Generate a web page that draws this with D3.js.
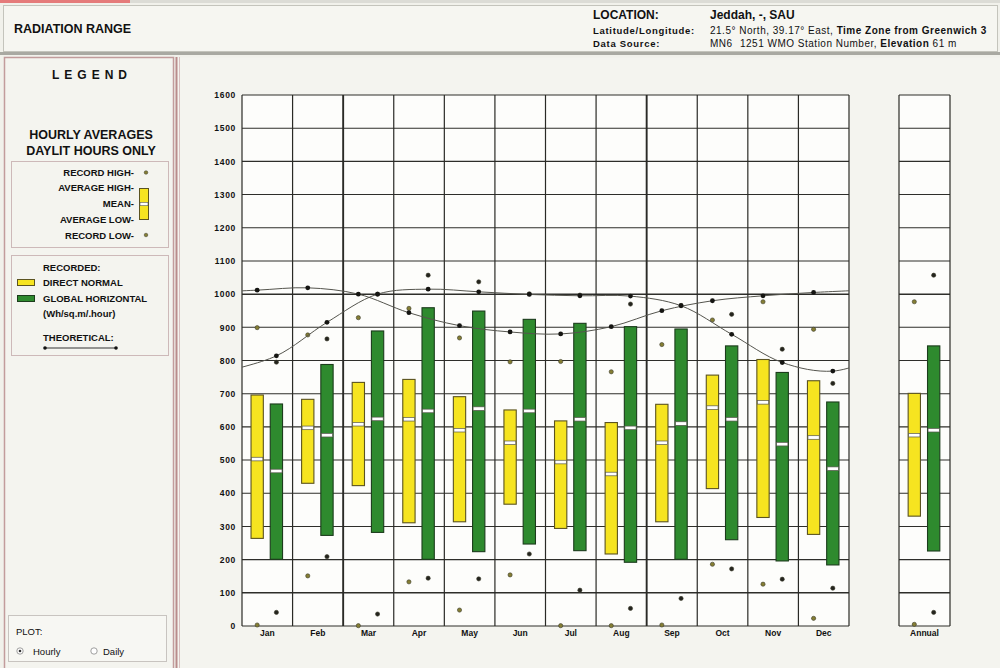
<!DOCTYPE html>
<html>
<head>
<meta charset="utf-8">
<script src="https://cdn.jsdelivr.net/npm/d3@7"></script>
<style>
  html, body { margin: 0; padding: 0; background: #f1f1eb; }
  svg { display: block; font-family: "Liberation Sans", Arial, sans-serif; }
</style>
</head>
<body>
<svg id="chart" width="1000" height="668"></svg>
<script>
// Hourly radiation ranges (Wh/sq.m/hour), daylit hours only
const months = ["Jan","Feb","Mar","Apr","May","Jun","Jul","Aug","Sep","Oct","Nov","Dec"];
const yTicks = [0,100,200,300,400,500,600,700,800,900,1000,1100,1200,1300,1400,1500,1600];

// Direct normal
const dnRecordHigh = [899, 877, 929, 957, 868, 796, 797, 766, 848, 922, 977, 894];
const dnAvgHigh    = [696, 683, 734, 743, 691, 651, 618, 613, 668, 756, 803, 739];
const dnMean       = [503, 597, 608, 623, 590, 552, 494, 458, 552, 658, 674, 568];
const dnAvgLow     = [264, 430, 423, 311, 314, 367, 294, 217, 314, 414, 327, 276];
const dnRecordLow  = [3, 151, 1, 133, 48, 154, 1, 1, 3, 186, 126, 23];
const dnTheoretical = [1012, 1019, 1000, 944, 905, 886, 880, 902, 950, 980, 995, 1005];

// Global horizontal
const ghRecordHigh = [795, 865, 1000, 1057, 1037, 1001, 997, 970, 966, 939, 834, 731];
const ghAvgHigh    = [669, 788, 889, 959, 949, 924, 912, 902, 895, 844, 764, 675];
const ghMean       = [467, 575, 624, 648, 655, 648, 623, 597, 610, 623, 548, 474];
const ghAvgLow     = [201, 273, 282, 201, 224, 247, 227, 192, 201, 260, 196, 184];
const ghRecordLow  = [41, 209, 36, 144, 142, 217, 108, 53, 83, 172, 141, 114];
const ghTheoretical = [814, 915, 1000, 1015, 1007, 999, 995, 994, 965, 879, 794, 768];

// Annual summary [recordHigh, avgHigh, mean, avgLow, recordLow]
const annualLabel = ["Annual"];
const dnAnnual = [977, 701, 575, 331, 5];
const ghAnnual = [1057, 844, 590, 226, 41];

const svg = d3.select("#chart");
const FONT = "'Liberation Sans', Arial, sans-serif";
const COLORS = { dn: "#f6e420", gh: "#2e8a2e" };
const STROKES = { dn: "#5b5320", gh: "#1c3c1c" };
const DOTS = { dn: "#857e34", gh: "#24241e" };

// ---------- Frames ----------
svg.append("rect").attr("x", 0).attr("y", 0).attr("width", 1000).attr("height", 668).attr("fill", "#f1f1eb");
svg.append("rect").attr("x", 0).attr("y", 0).attr("width", 130).attr("height", 3).attr("fill", "#e57b7b");
svg.append("rect").attr("x", 130).attr("y", 0).attr("width", 870).attr("height", 3).attr("fill", "#dcdcd6");
svg.append("rect").attr("x", 3.5).attr("y", 5.5).attr("width", 994).attr("height", 46)
  .attr("fill", "#f6f6f1").attr("stroke", "#c4c4bc");
svg.append("rect").attr("x", 0).attr("y", 52).attr("width", 1000).attr("height", 3).attr("fill", "#a9a9a2");

// legend panel
svg.append("rect").attr("x", 4.5).attr("y", 57.5).attr("width", 169).attr("height", 612)
  .attr("fill", "#f4f4ef").attr("stroke", "#c29c9c").attr("stroke-width", 1.5);
// chart panel
svg.append("rect").attr("x", 177).attr("y", 57.5).attr("width", 823).attr("height", 612)
  .attr("fill", "#f4f4ef");
svg.append("line").attr("x1", 176.5).attr("x2", 176.5).attr("y1", 57).attr("y2", 668).attr("stroke", "#b98c8c").attr("stroke-width", 2);
svg.append("line").attr("x1", 179.5).attr("x2", 179.5).attr("y1", 57).attr("y2", 668).attr("stroke", "#d8c0c0").attr("stroke-width", 1);

// ---------- Header ----------
const hdr = svg.append("g").attr("font-family", FONT).attr("fill", "#111");
hdr.append("text").attr("x", 14).attr("y", 33).attr("font-size", 12.5).attr("font-weight", "bold").text("RADIATION RANGE");
hdr.append("text").attr("x", 593).attr("y", 19).attr("font-size", 12).attr("font-weight", "bold").text("LOCATION:");
hdr.append("text").attr("x", 710).attr("y", 19).attr("font-size", 12).attr("font-weight", "bold").text("Jeddah, -, SAU");
hdr.append("text").attr("x", 593).attr("y", 34).attr("font-size", 9.5).attr("font-weight", "bold").attr("letter-spacing", 0.7).text("Latitude/Longitude:");
hdr.append("text").attr("x", 593).attr("y", 47).attr("font-size", 9.5).attr("font-weight", "bold").attr("letter-spacing", 0.7).text("Data Source:");
const l1 = hdr.append("text").attr("x", 710).attr("y", 34).attr("font-size", 10).attr("letter-spacing", 0.5);
l1.append("tspan").text("21.5° North, 39.17° East, ");
l1.append("tspan").attr("font-weight", "bold").text("Time Zone from Greenwich 3");
const l2 = hdr.append("text").attr("y", 47).attr("font-size", 10).attr("letter-spacing", 0.5);
l2.append("tspan").attr("x", 710).text("MN6");
l2.append("tspan").attr("x", 740).text("1251 WMO Station Number, ");
l2.append("tspan").attr("font-weight", "bold").text("Elevation");
l2.append("tspan").text(" 61 m");

// ---------- Scales ----------
const y = d3.scaleLinear().domain([0, 1600]).range([626, 95]);
const xM = d3.scaleBand().domain(months).range([242, 849]).padding(0);
const xA = d3.scaleBand().domain(annualLabel).range([899, 950]).padding(0);
const sub = d3.scalePoint().domain(["dn", "gh"]);
const BAR_W = 12.3;

function rowsFrom(i) {
  return {
    dn: { recHigh: dnRecordHigh[i], high: dnAvgHigh[i], mean: dnMean[i], low: dnAvgLow[i], recLow: dnRecordLow[i] },
    gh: { recHigh: ghRecordHigh[i], high: ghAvgHigh[i], mean: ghMean[i], low: ghAvgLow[i], recLow: ghRecordLow[i] }
  };
}
const monthRows = months.map((m, i) => Object.assign({ key: m }, rowsFrom(i)));
const toObj = a => ({ recHigh: a[0], high: a[1], mean: a[2], low: a[3], recLow: a[4] });
const annualRows = [{ key: annualLabel[0], dn: toObj(dnAnnual), gh: toObj(ghAnnual) }];

// ---------- Panels ----------
function drawPanel(xs, rows, heavy) {
  const g = svg.append("g");
  const [x0, x1] = xs.range();
  const bw = xs.bandwidth();
  const s = sub.copy().range([bw * 0.3, bw * 0.68]);

  g.append("rect").attr("x", x0).attr("y", y(1600)).attr("width", x1 - x0).attr("height", y(0) - y(1600)).attr("fill", "#fdfdfb");

  // horizontal grid
  g.selectAll("line.h").data(yTicks).join("line")
    .attr("x1", x0).attr("x2", x1).attr("y1", d => y(d)).attr("y2", d => y(d))
    .attr("stroke", "#2e2e2a").attr("stroke-width", d => (d === 100 || d === 1000) ? 1.5 : 1.1);

  // vertical grid at band boundaries
  const bounds = xs.domain().map(d => xs(d)).concat([x1]);
  g.selectAll("line.v").data(bounds).join("line")
    .attr("x1", d => d).attr("x2", d => d).attr("y1", y(1600)).attr("y2", y(0))
    .attr("stroke", "#2a2a26").attr("stroke-width", (d, i) => heavy.includes(i) ? 1.9 : 1.2);

  // bars
  const items = [];
  rows.forEach(r => ["dn", "gh"].forEach(k => items.push({ key: r.key, series: k, v: r[k], cx: xs(r.key) + s(k) })));

  g.selectAll("rect.bar").data(items).join("rect")
    .attr("x", d => d.cx - BAR_W / 2).attr("width", BAR_W)
    .attr("y", d => y(d.v.high)).attr("height", d => y(d.v.low) - y(d.v.high))
    .attr("fill", d => COLORS[d.series]).attr("stroke", d => STROKES[d.series]).attr("stroke-width", 1.1);

  g.selectAll("rect.mean").data(items).join("rect")
    .attr("x", d => d.cx - BAR_W / 2 + 0.5).attr("width", BAR_W - 1)
    .attr("y", d => y(d.v.mean) - 1.8).attr("height", 3.6)
    .attr("fill", "#ffffff").attr("stroke", "#55554c").attr("stroke-width", 0.7);

  // record highs and lows
  const recs = [];
  items.forEach(d => { recs.push({ cx: d.cx, v: d.v.recHigh, series: d.series }); recs.push({ cx: d.cx, v: d.v.recLow, series: d.series }); });
  g.selectAll("circle.rec").data(recs).join("circle")
    .attr("cx", d => d.cx).attr("cy", d => y(d.v)).attr("r", 2.1)
    .attr("fill", d => DOTS[d.series]).attr("stroke", "#3a3a2a").attr("stroke-width", 0.6);

  return { g, s, bw };
}

const monthPanel = drawPanel(xM, monthRows, [2, 8]);
drawPanel(xA, annualRows, []);

// ---------- Theoretical curves (wrap Dec/Jan across the year) ----------
const clip = svg.append("clipPath").attr("id", "plotClip");
clip.append("rect").attr("x", 242).attr("y", y(1600)).attr("width", 607).attr("height", y(0) - y(1600));

const bwM = xM.bandwidth();
const span = bwM * months.length;
function theoryPoints(values, key) {
  const pts = months.map((m, i) => [xM(m) + monthPanel.s(key), y(values[i])]);
  const last = values.length - 1;
  return [[xM(months[last]) + monthPanel.s(key) - span, y(values[last])]]
    .concat(pts)
    .concat([[xM(months[0]) + monthPanel.s(key) + span, y(values[0])]]);
}
const line = d3.line().curve(d3.curveCatmullRom.alpha(0.5));
const th = svg.append("g").attr("clip-path", "url(#plotClip)");
[[dnTheoretical, "dn"], [ghTheoretical, "gh"]].forEach(([vals, key]) => {
  th.append("path").attr("d", line(theoryPoints(vals, key)))
    .attr("fill", "none").attr("stroke", "#55554e").attr("stroke-width", 1);
  th.selectAll(null).data(vals).join("circle")
    .attr("cx", (d, i) => xM(months[i]) + monthPanel.s(key)).attr("cy", d => y(d)).attr("r", 2.4)
    .attr("fill", "#151512");
});

// ---------- Axes ----------
const yAxis = svg.append("g").attr("transform", "translate(242,0)")
  .call(d3.axisLeft(y).tickValues(yTicks).tickSize(0).tickPadding(6).tickFormat(d3.format("d")));
yAxis.select(".domain").remove();
yAxis.selectAll("text").attr("font-family", FONT).attr("font-size", 8.5).attr("font-weight", "bold")
  .attr("letter-spacing", 0.7).attr("fill", "#111");

[xM, xA].forEach(xs => {
  const ax = svg.append("g").attr("transform", `translate(0,${y(0)})`)
    .call(d3.axisBottom(xs).tickSize(0).tickPadding(4));
  ax.select(".domain").remove();
  ax.selectAll("text").attr("font-family", FONT).attr("font-size", 8.5).attr("font-weight", "bold").attr("fill", "#111");
});

// ---------- Legend ----------
const lg = svg.append("g").attr("font-family", FONT).attr("fill", "#111").attr("font-weight", "bold");
lg.append("text").attr("x", 92).attr("y", 79).attr("text-anchor", "middle").attr("font-size", 12)
  .attr("letter-spacing", 5).text("LEGEND");
lg.append("text").attr("x", 91).attr("y", 139).attr("text-anchor", "middle").attr("font-size", 12.5).text("HOURLY AVERAGES");
lg.append("text").attr("x", 91).attr("y", 155).attr("text-anchor", "middle").attr("font-size", 12.5).text("DAYLIT HOURS ONLY");

lg.append("rect").attr("x", 11.5).attr("y", 161.5).attr("width", 157).attr("height", 86)
  .attr("fill", "none").attr("stroke", "#cdb9b9").attr("stroke-width", 1);
const keyRows = [["RECORD HIGH-", 175.5], ["AVERAGE HIGH-", 191], ["MEAN-", 207], ["AVERAGE LOW-", 222.5], ["RECORD LOW-", 238.5]];
keyRows.forEach(([t, yy]) => lg.append("text").attr("x", 134).attr("y", yy).attr("text-anchor", "end")
  .attr("font-size", 9.5).text(t));
lg.append("circle").attr("cx", 146).attr("cy", 172.5).attr("r", 1.8).attr("fill", "#857e34").attr("stroke", "#3a3a2a").attr("stroke-width", 0.5);
lg.append("circle").attr("cx", 146).attr("cy", 235).attr("r", 1.8).attr("fill", "#857e34").attr("stroke", "#3a3a2a").attr("stroke-width", 0.5);
lg.append("rect").attr("x", 139.5).attr("y", 188.5).attr("width", 9).attr("height", 31)
  .attr("fill", COLORS.dn).attr("stroke", STROKES.dn).attr("stroke-width", 1);
lg.append("rect").attr("x", 140).attr("y", 202.3).attr("width", 8).attr("height", 3.4)
  .attr("fill", "#fff").attr("stroke", "#55554c").attr("stroke-width", 0.6);

lg.append("rect").attr("x", 11.5).attr("y", 255.5).attr("width", 157).attr("height", 100)
  .attr("fill", "none").attr("stroke", "#cdb9b9").attr("stroke-width", 1);
lg.append("text").attr("x", 43).attr("y", 270.5).attr("font-size", 9.5).text("RECORDED:");
lg.append("rect").attr("x", 17.5).attr("y", 279.5).attr("width", 17).attr("height", 6)
  .attr("fill", COLORS.dn).attr("stroke", STROKES.dn);
lg.append("text").attr("x", 43).attr("y", 286).attr("font-size", 9.5).text("DIRECT NORMAL");
lg.append("rect").attr("x", 17.5).attr("y", 295.5).attr("width", 17).attr("height", 6)
  .attr("fill", COLORS.gh).attr("stroke", STROKES.gh);
lg.append("text").attr("x", 43).attr("y", 302).attr("font-size", 9.5).text("GLOBAL HORIZONTAL");
lg.append("text").attr("x", 43).attr("y", 317).attr("font-size", 9.5).text("(Wh/sq.m/.hour)");
lg.append("text").attr("x", 43).attr("y", 340.5).attr("font-size", 9.5).text("THEORETICAL:");
lg.append("line").attr("x1", 45).attr("x2", 116).attr("y1", 348).attr("y2", 348).attr("stroke", "#333").attr("stroke-width", 1);
[45, 116].forEach(cx => lg.append("circle").attr("cx", cx).attr("cy", 348).attr("r", 1.8).attr("fill", "#111"));

// plot selector
const pl = svg.append("g").attr("font-family", FONT).attr("fill", "#111");
pl.append("rect").attr("x", 8.5).attr("y", 615.5).attr("width", 158).attr("height", 46)
  .attr("fill", "#f7f7f3").attr("stroke", "#c8c4c0");
pl.append("text").attr("x", 16).attr("y", 635).attr("font-size", 9.5).text("PLOT:");
pl.append("circle").attr("cx", 20).attr("cy", 651).attr("r", 3.2).attr("fill", "#fff").attr("stroke", "#888").attr("stroke-width", 0.8);
pl.append("circle").attr("cx", 20).attr("cy", 651).attr("r", 1.3).attr("fill", "#333");
pl.append("text").attr("x", 33).attr("y", 654.5).attr("font-size", 9.5).text("Hourly");
pl.append("circle").attr("cx", 94).attr("cy", 651).attr("r", 3.2).attr("fill", "#fff").attr("stroke", "#888").attr("stroke-width", 0.8);
pl.append("text").attr("x", 103).attr("y", 654.5).attr("font-size", 9.5).text("Daily");
</script>
</body>
</html>
